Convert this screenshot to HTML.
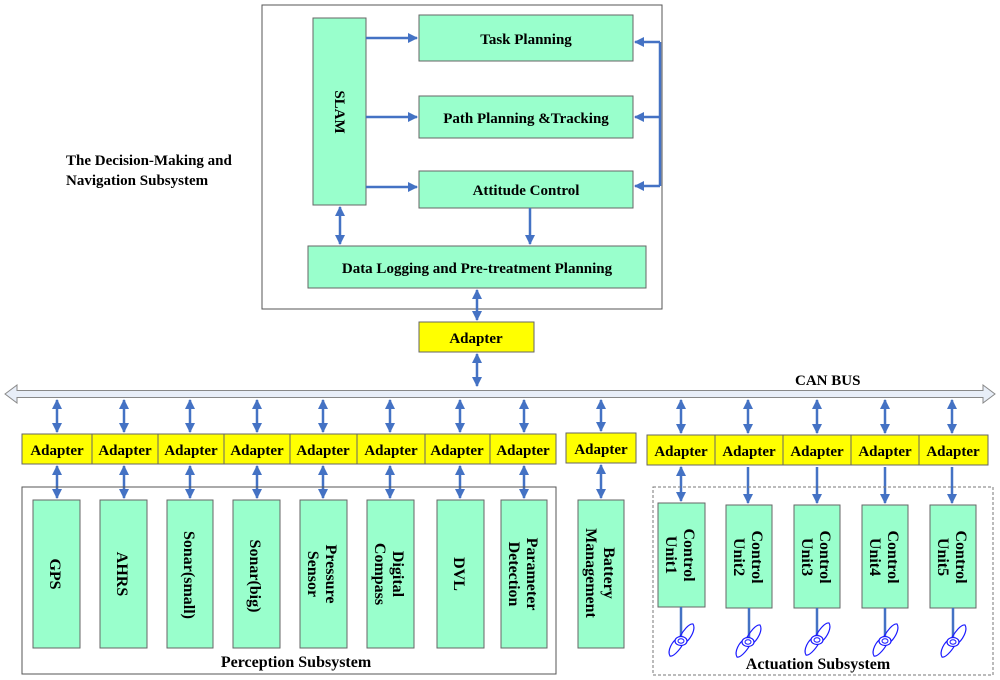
<!DOCTYPE html>
<html><head><meta charset="utf-8"><style>
html,body{margin:0;padding:0;background:#fff;width:1000px;height:680px;overflow:hidden}
svg text{font-family:"Liberation Serif",serif;font-weight:bold;fill:#000}
</style></head><body>
<svg width="1000" height="680" viewBox="0 0 1000 680" xmlns="http://www.w3.org/2000/svg">
<defs>
<marker id="ah" viewBox="0 0 10 10" refX="9" refY="5" markerWidth="4" markerHeight="4" orient="auto-start-reverse" markerUnits="strokeWidth">
<path d="M0,0 L10,5 L0,10 Z" fill="#4472C4"/></marker>
<g id="prop">
<path d="M-2,-3 C2,-10 8,-18 12,-17 C15,-12 10,-2 3,3 Z" fill="none" stroke="#1a1aff" stroke-width="1.2"/>
<path d="M2,3 C-2,10 -8,16 -11,15 C-14,10 -9,0 -3,-3 Z" fill="none" stroke="#1a1aff" stroke-width="1.2"/>
<ellipse cx="0" cy="0" rx="6" ry="4.5" fill="#fff" stroke="#1a1aff" stroke-width="1.2"/>
<ellipse cx="0" cy="0" rx="3" ry="2.2" fill="none" stroke="#1a1aff" stroke-width="1"/>
</g>
</defs>
<g stroke="#4472C4" stroke-width="2.5" fill="none">
</g>
<!-- top box -->
<rect x="262" y="5" width="400" height="304" fill="none" stroke="#555" stroke-width="1"/>
<g fill="#99FFCC" stroke="#666" stroke-width="1">
<rect x="313" y="18" width="53" height="187"/>
<rect x="419" y="15" width="214" height="46"/>
<rect x="419" y="96" width="214" height="42"/>
<rect x="419" y="171" width="214" height="37"/>
<rect x="308" y="246" width="338" height="42"/>
</g>
<text x="526" y="44" font-size="15" text-anchor="middle">Task Planning</text>
<text x="526" y="123" font-size="15" text-anchor="middle">Path Planning &amp;Tracking</text>
<text x="526" y="195" font-size="15" text-anchor="middle">Attitude Control</text>
<text x="477" y="273" font-size="15" text-anchor="middle">Data Logging  and Pre-treatment Planning</text>
<text x="340" y="112" font-size="15" text-anchor="middle" transform="rotate(90 340 112)" dy="5">SLAM</text>
<text x="66" y="165" font-size="15">The Decision-Making and</text>
<text x="66" y="185" font-size="15">Navigation Subsystem</text>
<g stroke="#4472C4" stroke-width="2.5" fill="none">
<line x1="366" y1="38" x2="417" y2="38" marker-end="url(#ah)"/>
<line x1="366" y1="117" x2="417" y2="117" marker-end="url(#ah)"/>
<line x1="366" y1="187" x2="417" y2="187" marker-end="url(#ah)"/>
<polyline points="660,42 660,186"/>
<line x1="660" y1="42" x2="635" y2="42" marker-end="url(#ah)"/>
<line x1="660" y1="117" x2="635" y2="117" marker-end="url(#ah)"/>
<line x1="660" y1="186" x2="635" y2="186" marker-end="url(#ah)"/>
<line x1="530" y1="208" x2="530" y2="244" marker-end="url(#ah)"/>
<line x1="340" y1="207" x2="340" y2="244" marker-start="url(#ah)" marker-end="url(#ah)"/>
<line x1="477" y1="290" x2="477" y2="320" marker-start="url(#ah)" marker-end="url(#ah)"/>
<line x1="477" y1="354" x2="477" y2="386" marker-start="url(#ah)" marker-end="url(#ah)"/>
</g>
<rect x="419" y="322" width="115" height="30" fill="#FFFF00" stroke="#666"/>
<text x="476" y="343" font-size="15" text-anchor="middle">Adapter</text>
<!-- CAN bus -->
<path d="M5,394 L17,385 L17,390.5 L983,390.5 L983,385 L995,394 L983,403 L983,397.5 L17,397.5 L17,403 Z" fill="#E8EEF8" stroke="#888" stroke-width="1"/>
<text x="795" y="385" font-size="15">CAN  BUS</text>
<!-- adapters bottom -->
<g fill="#FFFF00" stroke="#666" stroke-width="1">
<rect x="22" y="434" width="70" height="30"/><rect x="92" y="434" width="66" height="30"/>
<rect x="158" y="434" width="66" height="30"/><rect x="224" y="434" width="66" height="30"/>
<rect x="290" y="434" width="67" height="30"/><rect x="357" y="434" width="68" height="30"/>
<rect x="425" y="434" width="65" height="30"/><rect x="490" y="434" width="66" height="30"/>
<rect x="566" y="433" width="70" height="30"/>
<rect x="647" y="435" width="68" height="30"/><rect x="715" y="435" width="68" height="30"/>
<rect x="783" y="435" width="68" height="30"/><rect x="851" y="435" width="68" height="30"/>
<rect x="919" y="435" width="69" height="30"/>
</g>
<g font-size="15" text-anchor="middle">
<text x="57" y="455">Adapter</text><text x="125" y="455">Adapter</text><text x="191" y="455">Adapter</text>
<text x="257" y="455">Adapter</text><text x="323" y="455">Adapter</text><text x="391" y="455">Adapter</text>
<text x="457" y="455">Adapter</text><text x="523" y="455">Adapter</text><text x="601" y="454">Adapter</text>
<text x="681" y="456">Adapter</text><text x="749" y="456">Adapter</text><text x="817" y="456">Adapter</text>
<text x="885" y="456">Adapter</text><text x="953" y="456">Adapter</text>
</g>
<g stroke="#4472C4" stroke-width="2.5" fill="none">
<line x1="57" y1="400" x2="57" y2="432" marker-start="url(#ah)" marker-end="url(#ah)"/>
<line x1="124" y1="400" x2="124" y2="432" marker-start="url(#ah)" marker-end="url(#ah)"/>
<line x1="190" y1="400" x2="190" y2="432" marker-start="url(#ah)" marker-end="url(#ah)"/>
<line x1="257" y1="400" x2="257" y2="432" marker-start="url(#ah)" marker-end="url(#ah)"/>
<line x1="323" y1="400" x2="323" y2="432" marker-start="url(#ah)" marker-end="url(#ah)"/>
<line x1="390" y1="400" x2="390" y2="432" marker-start="url(#ah)" marker-end="url(#ah)"/>
<line x1="460" y1="400" x2="460" y2="432" marker-start="url(#ah)" marker-end="url(#ah)"/>
<line x1="524" y1="400" x2="524" y2="432" marker-start="url(#ah)" marker-end="url(#ah)"/>
<line x1="601" y1="400" x2="601" y2="431" marker-start="url(#ah)" marker-end="url(#ah)"/>
<line x1="681" y1="400" x2="681" y2="433" marker-start="url(#ah)" marker-end="url(#ah)"/>
<line x1="748" y1="400" x2="748" y2="433" marker-start="url(#ah)" marker-end="url(#ah)"/>
<line x1="817" y1="400" x2="817" y2="433" marker-start="url(#ah)" marker-end="url(#ah)"/>
<line x1="885" y1="400" x2="885" y2="433" marker-start="url(#ah)" marker-end="url(#ah)"/>
<line x1="952" y1="400" x2="952" y2="433" marker-start="url(#ah)" marker-end="url(#ah)"/>
<line x1="57" y1="466" x2="57" y2="498" marker-start="url(#ah)" marker-end="url(#ah)"/>
<line x1="124" y1="466" x2="124" y2="498" marker-start="url(#ah)" marker-end="url(#ah)"/>
<line x1="190" y1="466" x2="190" y2="498" marker-start="url(#ah)" marker-end="url(#ah)"/>
<line x1="257" y1="466" x2="257" y2="498" marker-start="url(#ah)" marker-end="url(#ah)"/>
<line x1="323" y1="466" x2="323" y2="498" marker-start="url(#ah)" marker-end="url(#ah)"/>
<line x1="390" y1="466" x2="390" y2="498" marker-start="url(#ah)" marker-end="url(#ah)"/>
<line x1="460" y1="466" x2="460" y2="498" marker-start="url(#ah)" marker-end="url(#ah)"/>
<line x1="524" y1="466" x2="524" y2="498" marker-start="url(#ah)" marker-end="url(#ah)"/>
<line x1="601" y1="465" x2="601" y2="498" marker-start="url(#ah)" marker-end="url(#ah)"/>
<line x1="681" y1="467" x2="681" y2="501" marker-start="url(#ah)" marker-end="url(#ah)"/>
<line x1="748" y1="467" x2="748" y2="503" marker-end="url(#ah)"/>
<line x1="817" y1="467" x2="817" y2="503" marker-end="url(#ah)"/>
<line x1="885" y1="467" x2="885" y2="503" marker-end="url(#ah)"/>
<line x1="952" y1="467" x2="952" y2="503" marker-end="url(#ah)"/>
</g>
<!-- perception -->
<rect x="22" y="487" width="534" height="187" fill="none" stroke="#555" stroke-width="1"/>
<rect x="653" y="487" width="340" height="188" fill="none" stroke="#777" stroke-width="1" stroke-dasharray="3,2"/>
<g fill="#99FFCC" stroke="#666" stroke-width="1">
<rect x="33" y="500" width="47" height="148"/><rect x="100" y="500" width="47" height="148"/>
<rect x="167" y="500" width="46" height="148"/><rect x="233" y="500" width="47" height="148"/>
<rect x="300" y="500" width="47" height="148"/><rect x="367" y="500" width="47" height="148"/>
<rect x="437" y="500" width="47" height="148"/><rect x="501" y="500" width="46" height="148"/>
<rect x="578" y="500" width="46" height="148"/>
<rect x="658" y="503" width="47" height="104"/><rect x="726" y="505" width="46" height="103"/>
<rect x="794" y="505" width="46" height="103"/><rect x="862" y="505" width="46" height="103"/>
<rect x="930" y="505" width="46" height="103"/>
</g>
<g font-size="16" text-anchor="middle">
<text transform="translate(56 574) rotate(90)" y="6">GPS</text>
<text transform="translate(123 574) rotate(90)" y="6">AHRS</text>
<text transform="translate(190 575) rotate(90)" y="6">Sonar(small)</text>
<text transform="translate(256 576) rotate(90)" y="6">Sonar(big)</text>
<text transform="translate(323 574) rotate(90)"><tspan x="0" y="-3">Pressure</tspan><tspan x="0" y="15">Sensor</tspan></text>
<text transform="translate(390 574) rotate(90)"><tspan x="0" y="-3">Digital</tspan><tspan x="0" y="15">Compass</tspan></text>
<text transform="translate(460 574) rotate(90)" y="6">DVL</text>
<text transform="translate(524 574) rotate(90)"><tspan x="0" y="-3">Parameter</tspan><tspan x="0" y="15">Detection</tspan></text>
<text transform="translate(601 573) rotate(90)"><tspan x="0" y="-3">Battery</tspan><tspan x="0" y="15">Management</tspan></text>
<text transform="translate(681 555) rotate(90)"><tspan x="0" y="-3">Control</tspan><tspan x="0" y="15">Unit1</tspan></text>
<text transform="translate(749 557) rotate(90)"><tspan x="0" y="-3">Control</tspan><tspan x="0" y="15">Unit2</tspan></text>
<text transform="translate(817 557) rotate(90)"><tspan x="0" y="-3">Control</tspan><tspan x="0" y="15">Unit3</tspan></text>
<text transform="translate(885 557) rotate(90)"><tspan x="0" y="-3">Control</tspan><tspan x="0" y="15">Unit4</tspan></text>
<text transform="translate(953 557) rotate(90)"><tspan x="0" y="-3">Control</tspan><tspan x="0" y="15">Unit5</tspan></text>
</g>
<text x="296" y="667" font-size="16" text-anchor="middle">Perception Subsystem</text>
<text x="818" y="669" font-size="16" text-anchor="middle">Actuation   Subsystem</text>
<g stroke="#4472C4" stroke-width="2.5">
<line x1="681" y1="607" x2="681" y2="637"/><line x1="749" y1="608" x2="749" y2="639"/>
<line x1="817" y1="608" x2="817" y2="637"/><line x1="885" y1="608" x2="885" y2="638"/>
<line x1="953" y1="608" x2="953" y2="639"/>
</g>
<use href="#prop" x="681" y="641"/><use href="#prop" x="748" y="642"/>
<use href="#prop" x="817" y="640"/><use href="#prop" x="885" y="641"/>
<use href="#prop" x="953" y="642"/>
</svg>
</body></html>
